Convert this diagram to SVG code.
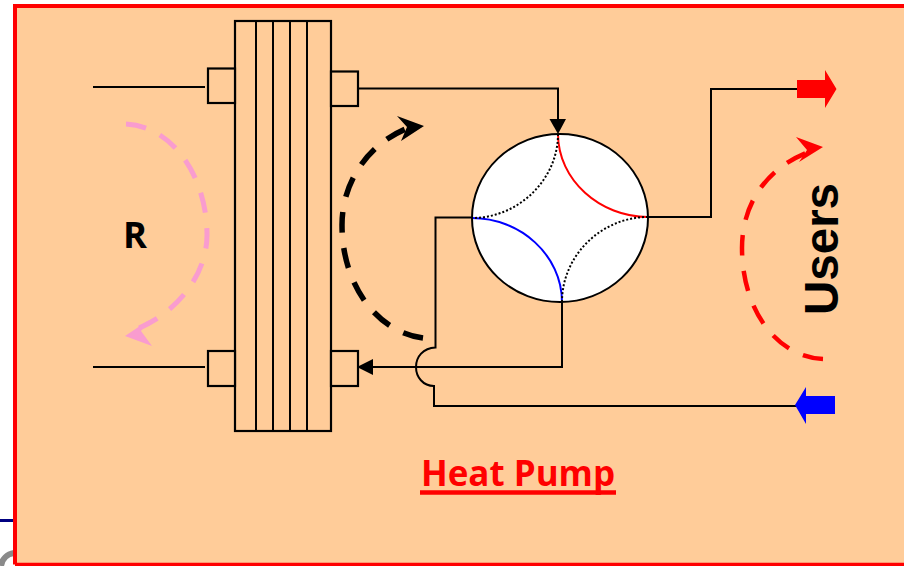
<svg xmlns="http://www.w3.org/2000/svg" width="904" height="566" viewBox="0 0 904 566">
<style>
.k{fill:none;stroke:#000;stroke-width:2}
.b{fill:#fc9;stroke:#000;stroke-width:2.200}
.d{fill:none;stroke-dasharray:20.500 15.500}
.t{font-family:"Open Sans","Noto Sans",sans-serif;font-weight:700}
</style>
<rect width="904" height="566" fill="#fff"/>
<path d="M0 520.500H14" stroke="#000080" stroke-width="3" fill="none"/>
<path d="M1 566C2 559 7 554 14 553" stroke="#8a8a8a" stroke-width="6" fill="none"/>
<path id="frame" d="M15 565V6H907V565Z" fill="#fc9"/>
<path d="M15 564.500V6H907M15 564.800H907" fill="none" stroke="#f00" stroke-width="4"/>
<g id="exchanger">
<rect class="b" x="235" y="21" width="96" height="410"/>
<path class="k" d="M256 21V431M273 21V431M290 21V431M307 21V431"/>
<rect class="b" x="208" y="68.500" width="27" height="34.500"/>
<rect class="b" x="208" y="351" width="27" height="35"/>
<rect class="b" x="331" y="71.500" width="27" height="34.500"/>
<rect class="b" x="331" y="351" width="27" height="35"/>
</g>
<g id="valve">
<ellipse cx="560" cy="218" rx="88" ry="84" fill="#fff" stroke="#000" stroke-width="2"/>
<path d="M558 134C558 180 600 217 648 217" fill="none" stroke="#f00" stroke-width="2"/>
<path d="M472 218C520 218 562 255 562 302" fill="none" stroke="#00f" stroke-width="2"/>
<path d="M558 134C558 180 518 218 472 218M648 217C602 217 562 255 562 302" fill="none" stroke="#000" stroke-width="2" stroke-dasharray="2 2"/>
</g>
<g id="connectors">
<path class="k" d="M93 87H205M93 367H205"/>
<path class="k" d="M358 88.500H558V122"/>
<path d="M549.500 119H566L558 134Z"/>
<path class="k" d="M562 302V367H372"/>
<path d="M373 359V375L357 367Z"/>
<path class="k" d="M472 217.500H435.500V347.500C423 348 416 357 416 367C416 377 423 386 434 386V406H797"/>
<path class="k" d="M648 217H711V89H798"/>
<path d="M797 80H825V70L836.500 89L825 108V98H797Z" fill="#f00"/>
<path d="M795 405L806 387V396H835V414H806V424Z" fill="#00f"/>
<path class="d" stroke="#000" stroke-width="5.500" d="M423 338C377 332 342 285 342 225C342 180 370 143 408 128"/>
<path d="M397 116L424 126L401 141L407 127Z"/>
<path class="d" stroke="#f99ccf" stroke-width="5" d="M126 124C172 126 207 176 207 235C207 274 178 312 137 329"/>
<path d="M149 320L125 336L152 346L141 331Z" fill="#f99ccf"/>
<path class="d" stroke="#f00" stroke-width="4.500" d="M823 359C777 357 742 310 742 248C742 205 765 170 806 153"/>
<path d="M796 137L823 147L799 162L807 150Z" fill="#f00"/>
</g>
<text class="t" x="123" y="248" font-size="36" textLength="24" lengthAdjust="spacingAndGlyphs">R</text>
<text x="838" y="315" transform="rotate(-90 838 315)" font-family="'Liberation Sans',Arial,sans-serif" font-weight="700" font-size="47.500">Users</text>
<text class="t" x="421" y="486" font-size="36" fill="#f00" textLength="194" lengthAdjust="spacingAndGlyphs">Heat Pump</text>
<path d="M420 492.500H616" stroke="#f00" stroke-width="4.500" fill="none"/>
</svg>
